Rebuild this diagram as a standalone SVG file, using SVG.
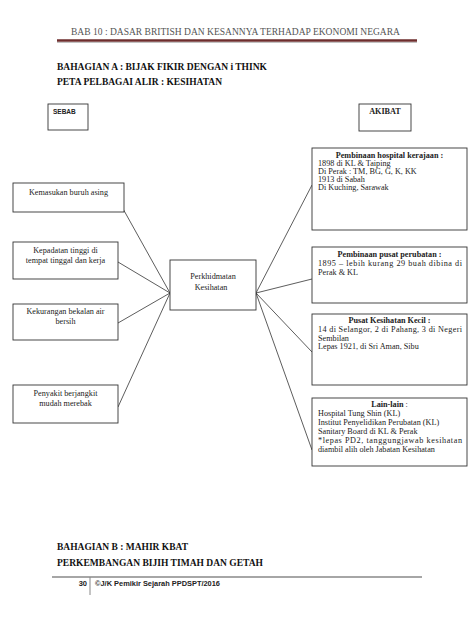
<svg xmlns="http://www.w3.org/2000/svg" width="474" height="632" viewBox="0 0 474 632">
<style>
.box{fill:#fff;stroke:#333;stroke-width:0.9}
.t{font-family:"Liberation Serif","Times New Roman",serif;font-size:8.2px;fill:#222}
.c{text-anchor:middle}
.b{font-weight:bold}
.h{font-family:"Liberation Serif","Times New Roman",serif;font-weight:bold;font-size:9.5px;fill:#111}
.conn line{stroke:#333;stroke-width:0.8}
</style>
<rect width="474" height="632" fill="#fff"/>
<!-- header -->
<text x="235.5" y="35" class="c" font-family="Liberation Serif, serif" font-size="9.5" fill="#555" textLength="329" lengthAdjust="spacingAndGlyphs">BAB 10 : DASAR BRITISH DAN KESANNYA TERHADAP EKONOMI NEGARA</text>
<line x1="57" y1="40.5" x2="417" y2="40.5" stroke="#6e2e2e" stroke-width="2.5"/>
<line x1="57" y1="42.5" x2="417" y2="42.5" stroke="#999" stroke-width="0.6"/>
<text x="57" y="70" class="h" textLength="210" lengthAdjust="spacingAndGlyphs">BAHAGIAN A : BIJAK FIKIR DENGAN i THINK</text>
<text x="57" y="85" class="h" textLength="165" lengthAdjust="spacingAndGlyphs">PETA PELBAGAI ALIR : KESIHATAN</text>

<g id="sebab">
<rect class="box" x="48" y="104" width="40" height="26"/>
<text x="53" y="114" font-family="Liberation Sans, sans-serif" font-weight="bold" font-size="6.5" fill="#222">SEBAB</text>
</g>
<g id="akibat">
<rect class="box" x="359" y="104" width="52" height="27"/>
<text x="385" y="113.5" class="t b c" font-size="7.5">AKIBAT</text>
</g>

<g class="conn" id="connectors">
<line x1="117" y1="198" x2="170" y2="293"/>
<line x1="118" y1="262" x2="170" y2="293"/>
<line x1="118" y1="323" x2="170" y2="293"/>
<line x1="118" y1="407" x2="170" y2="293"/>
<line x1="256" y1="293" x2="312" y2="185"/>
<line x1="256" y1="293" x2="312" y2="279"/>
<line x1="256" y1="293" x2="312" y2="352"/>
<line x1="256" y1="293" x2="312" y2="450"/>
</g>

<g id="c1">
<rect class="box" x="13" y="183" width="111" height="29"/>
<text x="68.5" y="195" class="t c">Kemasukan buruh asing</text>
</g>
<g id="c2">
<rect class="box" x="13" y="242" width="105" height="37"/>
<text x="65.5" y="253" class="t c">Kepadatan tinggi di</text>
<text x="65.5" y="263" class="t c">tempat tinggal dan kerja</text>
</g>
<g id="c3">
<rect class="box" x="13" y="304" width="105" height="36"/>
<text x="65.5" y="314" class="t c">Kekurangan bekalan air</text>
<text x="65.5" y="324" class="t c">bersih</text>
</g>
<g id="c4">
<rect class="box" x="13" y="385" width="105" height="38"/>
<text x="65.5" y="396" class="t c">Penyakit berjangkit</text>
<text x="65.5" y="406" class="t c">mudah merebak</text>
</g>

<g id="center">
<rect class="box" x="170" y="260" width="86" height="50"/>
<text x="213" y="279" class="t c" font-size="8.6">Perkhidmatan</text>
<text x="211" y="290" class="t c" font-size="8.6">Kesihatan</text>
</g>

<g id="r1">
<rect class="box" x="312" y="148" width="155" height="82"/>
<text x="389.5" y="158" class="t b c">Pembinaan hospital kerajaan :</text>
<text x="318" y="166" class="t">1898 di KL &amp; Taiping</text>
<text x="318" y="174" class="t">Di Perak : TM, BG, G, K, KK</text>
<text x="318" y="182" class="t">1913 di Sabah</text>
<text x="318" y="190" class="t">Di Kuching, Sarawak</text>
</g>
<g id="r2">
<rect class="box" x="312" y="247" width="155" height="56"/>
<text x="389.5" y="257" class="t b c">Pembinaan pusat perubatan :</text>
<text x="318" y="266" class="t" textLength="144" lengthAdjust="spacing">1895 – lebih kurang 29 buah dibina di</text>
<text x="318" y="275" class="t">Perak &amp; KL</text>
</g>
<g id="r3">
<rect class="box" x="312" y="314" width="155" height="71"/>
<text x="389.5" y="323" class="t b c">Pusat Kesihatan Kecil :</text>
<text x="318" y="332" class="t" textLength="144" lengthAdjust="spacing">14 di Selangor, 2 di Pahang, 3 di Negeri</text>
<text x="318" y="340.5" class="t">Sembilan</text>
<text x="318" y="349" class="t">Lepas 1921, di Sri Aman, Sibu</text>
</g>
<g id="r4">
<rect class="box" x="312" y="398" width="155" height="68"/>
<text x="389.5" y="406.5" class="t b c">Lain-lain <tspan font-weight="normal">:</tspan></text>
<text x="318" y="415.5" class="t">Hospital Tung Shin (KL)</text>
<text x="318" y="424.5" class="t">Institut Penyelidikan Perubatan (KL)</text>
<text x="318" y="433.5" class="t">Sanitary Board di KL &amp; Perak</text>
<text x="318" y="442.5" class="t" textLength="144" lengthAdjust="spacing">*lepas PD2, tanggungjawab kesihatan</text>
<text x="318" y="451.5" class="t">diambil alih oleh Jabatan Kesihatan</text>
</g>

<!-- bottom -->
<text x="57" y="550" class="h" textLength="131" lengthAdjust="spacingAndGlyphs">BAHAGIAN B : MAHIR KBAT</text>
<text x="57" y="566" class="h" textLength="206" lengthAdjust="spacingAndGlyphs">PERKEMBANGAN BIJIH TIMAH DAN GETAH</text>
<line x1="52" y1="577" x2="422" y2="577" stroke="#888" stroke-width="1.3"/>
<line x1="90" y1="577" x2="90" y2="595" stroke="#888" stroke-width="1"/>
<text x="87" y="586" text-anchor="end" font-family="Liberation Sans, sans-serif" font-weight="bold" font-size="7.5" fill="#222">30</text>
<text x="95" y="586" font-family="Liberation Sans, sans-serif" font-weight="bold" font-size="7.5" fill="#222" textLength="125" lengthAdjust="spacingAndGlyphs">©J/K Pemikir Sejarah PPDSPT/2016</text>
</svg>
